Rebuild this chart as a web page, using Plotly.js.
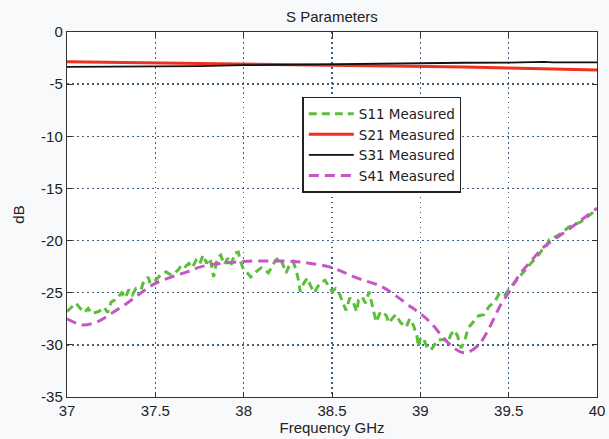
<!DOCTYPE html>
<html>
<head>
<meta charset="utf-8">
<script src="https://cdn.plot.ly/plotly-3.0.1.min.js"></script>
<style>html,body{margin:0;padding:0;background:#f8f9fb;}#chart{width:609px;height:439px;}</style>
</head>
<body>
<div id="chart"></div>
<script>
// S11 Measured (frequency GHz, dB)
const s11Freq = [37.00,37.02,37.05,37.075,37.10,37.12,37.14,37.18,37.21,37.23,37.25,37.27,37.29,37.31,37.33,37.35,37.37,37.39,37.42,37.43,37.46,37.47,37.50,37.53,37.56,37.59,37.61,37.63,37.65,37.67,37.69,37.71,37.73,37.75,37.77,37.79,37.81,37.83,37.85,37.87,37.89,37.91,37.93,37.95,37.97,37.98,38.00,38.02,38.04,38.07,38.10,38.12,38.14,38.16,38.18,38.20,38.22,38.24,38.26,38.28,38.30,38.31,38.32,38.34,38.36,38.38,38.40,38.42,38.44,38.46,38.48,38.50,38.52,38.54,38.56,38.58,38.60,38.62,38.64,38.65,38.67,38.69,38.71,38.73,38.75,38.77,38.79,38.81,38.82,38.84,38.86,38.89,38.92,38.94,38.96,38.98,38.99,39.00,39.02,39.04,39.06,39.08,39.10,39.13,39.16,39.17,39.19,39.21,39.23,39.25,39.27,39.29,39.31,39.33,39.36,39.39,39.42,39.45,39.48,39.50,39.53,39.56,39.60,39.63,39.66,39.69,39.71,39.73,39.77,39.80,39.84,39.87,39.91,39.94,39.97,40.00];
const s11dB = [-26.8,-26.5,-26.0,-26.5,-26.9,-26.5,-27.0,-26.8,-26.4,-26.9,-25.9,-25.7,-25.4,-25.0,-25.5,-24.7,-25.2,-24.6,-24.7,-24.1,-23.5,-24.1,-23.8,-23.3,-23.0,-23.3,-23.1,-22.8,-22.3,-22.5,-22.2,-22.6,-21.9,-22.3,-21.4,-22.2,-21.7,-23.5,-21.7,-21.4,-22.3,-21.7,-22.3,-21.2,-21.1,-21.9,-22.8,-23.1,-23.5,-23.0,-22.6,-22.8,-23.1,-22.5,-21.9,-21.6,-22.2,-23.1,-22.3,-22.0,-23.0,-23.8,-24.9,-24.1,-23.6,-24.4,-25.0,-24.4,-24.0,-23.8,-24.3,-24.9,-24.6,-25.0,-25.9,-26.7,-25.5,-25.9,-26.8,-25.7,-25.4,-26.0,-24.9,-26.4,-27.8,-27.0,-26.8,-27.3,-27.9,-27.5,-27.1,-27.9,-28.3,-27.5,-28.1,-29.1,-30.2,-29.3,-29.5,-30.3,-30.5,-30.0,-29.5,-29.5,-29.7,-29.1,-28.6,-29.1,-30.3,-29.7,-28.4,-28.0,-27.6,-27.2,-27.1,-26.3,-25.9,-25.0,-25.2,-24.7,-24.1,-23.5,-22.6,-22.1,-21.6,-20.9,-20.7,-19.9,-19.6,-19.3,-18.7,-18.5,-18.2,-17.8,-17.4,-16.9];

// S21 Measured
const s21Freq = [37.00,37.25,37.50,37.75,38.00,38.25,38.50,38.90,39.25,39.50,39.75,40.00];
const s21dB = [-2.85,-2.90,-2.97,-3.03,-3.10,-3.13,-3.16,-3.22,-3.35,-3.45,-3.55,-3.65];

// S31 Measured
const s31Freq = [37.00,37.25,37.50,37.75,38.00,38.25,38.50,38.90,39.25,39.50,39.70,39.75,40.00];
const s31dB = [-3.35,-3.34,-3.33,-3.28,-3.18,-3.12,-3.08,-3.00,-2.95,-2.93,-2.86,-2.92,-2.92];

// S41 Measured
const s41Freq = [37.00,37.05,37.09,37.17,37.25,37.34,37.42,37.50,37.59,37.68,37.76,37.87,38.00,38.14,38.28,38.38,38.48,38.56,38.66,38.78,38.87,38.95,39.00,39.06,39.12,39.17,39.23,39.27,39.33,39.38,39.46,39.50,39.56,39.63,39.70,39.80,39.89,40.00];
const s41dB = [-27.5,-27.9,-28.1,-27.8,-27.0,-26.0,-25.0,-24.1,-23.5,-23.0,-22.5,-22.2,-22.0,-21.95,-22.0,-22.2,-22.5,-23.0,-23.7,-24.4,-25.4,-26.4,-27.0,-27.9,-29.1,-30.0,-30.7,-30.7,-30.0,-28.7,-26.0,-25.0,-23.3,-21.9,-20.6,-19.4,-18.3,-16.9];

const xTicks = [37,37.5,38,38.5,39,39.5,40];
const xTickText = ['37','37.5','38','38.5','39','39.5','40'];
const yTicks = [-35,-30,-25,-20,-15,-10,-5,0];
const yTickText = ['-35','-30','-25','-20','-15','-10','-5','0'];

const font = 'Liberation Sans, Arial, sans-serif';

const traces = [
  {x:s11Freq, y:s11dB, name:'S11 Measured', mode:'lines', line:{color:'#5cbf3c', width:3, dash:'8px,5px'}},
  {x:s21Freq, y:s21dB, name:'S21 Measured', mode:'lines', line:{color:'#f0301e', width:3}},
  {x:s31Freq, y:s31dB, name:'S31 Measured', mode:'lines', line:{color:'#111111', width:1.8}},
  {x:s41Freq, y:s41dB, name:'S41 Measured', mode:'lines', line:{color:'#c655c6', width:3, dash:'10px,6px', shape:'spline'}}
];

const axisCommon = {
  showline:true, linecolor:'#333', linewidth:1.2, mirror:'ticks',
  ticks:'inside', ticklen:5, tickcolor:'#333',
  showgrid:true, gridcolor:'#3f5f7f', griddash:'1.5px,3.5px', gridwidth:1.5,
  zeroline:false, tickfont:{family:font, size:15, color:'#222'}
};

const layout = {
  width:609, height:439,
  paper_bgcolor:'#f8f9fb', plot_bgcolor:'#ffffff',
  margin:{l:67, r:12, t:32, b:42},
  title:{text:'S Parameters', font:{family:font, size:15, color:'#222'}, x:0.545, xanchor:'center', y:0.962, yanchor:'middle'},
  xaxis:Object.assign({}, axisCommon, {range:[37,40], tickvals:xTicks, ticktext:xTickText,
    title:{text:'Frequency GHz', font:{family:font, size:15, color:'#222'}, standoff:2}}),
  yaxis:Object.assign({}, axisCommon, {range:[-35,0], tickvals:yTicks, ticktext:yTickText,
    title:{text:'dB', font:{family:font, size:15, color:'#222'}, standoff:12}}),
  showlegend:true,
  legend:{x:0.444, y:0.822, xanchor:'left', yanchor:'top', bgcolor:'#ffffff', bordercolor:'#222', borderwidth:1.5,
    font:{family:'DejaVu Sans, sans-serif', size:13.5, color:'#222'}, tracegroupgap:0, itemwidth:45}
};

Plotly.newPlot('chart', traces, layout, {displayModeBar:false, staticPlot:true});
</script>
</body>
</html>
